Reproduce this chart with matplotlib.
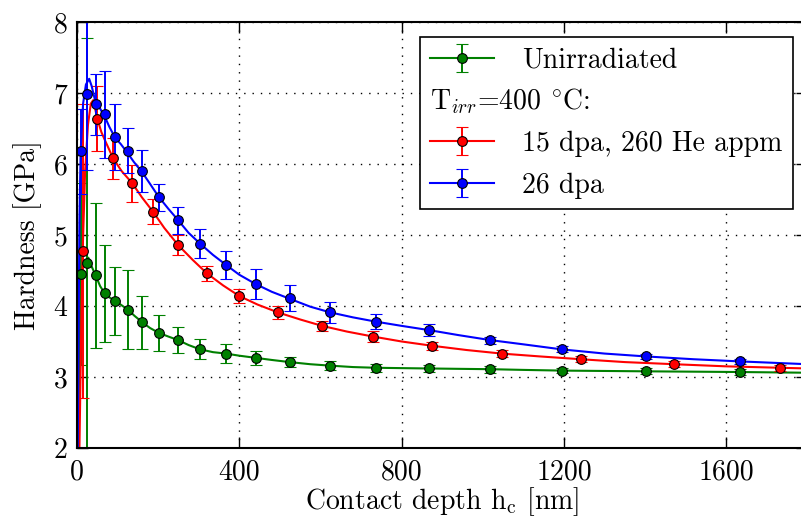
import numpy as np
import matplotlib
matplotlib.use("Agg")
import matplotlib.pyplot as plt
from matplotlib.lines import Line2D
from matplotlib.text import Text

plt.rcParams['font.family'] = ['cmr10', 'DejaVu Serif']
plt.rcParams['mathtext.fontset'] = 'cm'
plt.rcParams['font.size'] = 20
plt.rcParams['axes.unicode_minus'] = False

# indentation points (contact depth in nm, hardness in GPa)
depth_ref = [9, 25, 46, 69, 94, 125, 161, 201, 249, 303, 367, 440, 525, 624, 736, 868, 1018, 1195, 1401, 1634]
h_unirr = [4.45, 4.61, 4.43, 4.18, 4.07, 3.95, 3.77, 3.62, 3.52, 3.39, 3.33, 3.27, 3.21, 3.16, 3.13, 3.12, 3.11, 3.09, 3.08, 3.07]
err_unirr = [1.28, 3.17, 1.02, 0.68, 0.48, 0.56, 0.37, 0.25, 0.18, 0.14, 0.13, 0.10, 0.07, 0.06, 0.06, 0.05, 0.05, 0.04, 0.04, 0.04]
h_26 = [6.18, 6.98, 6.84, 6.70, 6.38, 6.19, 5.90, 5.53, 5.21, 4.88, 4.58, 4.31, 4.11, 3.91, 3.78, 3.66, 3.52, 3.39, 3.29, 3.22]
err_26 = [0.60, 1.06, 0.43, 0.61, 0.46, 0.32, 0.30, 0.19, 0.19, 0.20, 0.20, 0.21, 0.18, 0.15, 0.11, 0.08, 0.05, 0.04, 0.04, 0.04]

depth_15 = [14, 50, 89, 136, 187, 249, 320, 400, 495, 604, 729, 875, 1046, 1242, 1472, 1732]
h_15 = [4.78, 6.64, 6.08, 5.73, 5.33, 4.86, 4.46, 4.14, 3.91, 3.72, 3.57, 3.44, 3.33, 3.25, 3.18, 3.13]
err_15 = [2.07, 0.46, 0.29, 0.26, 0.18, 0.14, 0.11, 0.10, 0.09, 0.07, 0.08, 0.06, 0.05, 0.04, 0.04, 0.04]

# fitted curves
fit_unirr_x = [0, 4, 9, 17, 28, 35, 46, 57, 68, 80, 95, 110, 125, 142, 161, 180, 202, 225, 249, 275, 303, 335, 367, 400,
               440, 480, 524, 575, 624, 680, 736, 800, 868, 940, 1018, 1100, 1197, 1300, 1401, 1520, 1635, 1800]
fit_unirr_y = [0.5, 2.6, 4.45, 4.62, 4.68, 4.57, 4.43, 4.28, 4.18, 4.12, 4.07, 4.01, 3.95, 3.86, 3.77, 3.69, 3.62, 3.57, 3.52,
               3.45, 3.39, 3.35, 3.33, 3.30, 3.27, 3.24, 3.21, 3.18, 3.16, 3.14, 3.13, 3.125, 3.12, 3.115, 3.11, 3.10, 3.09,
               3.085, 3.08, 3.075, 3.07, 3.06]
fit_15_x = [0, 6, 11, 14, 20, 27, 34, 40, 50, 60, 70, 89, 110, 136, 160, 187, 215, 249, 285, 320, 360, 400, 445, 495,
            550, 604, 665, 729, 800, 875, 960, 1046, 1140, 1242, 1350, 1472, 1600, 1732, 1800]
fit_15_y = [0.5, 2.0, 3.9, 4.78, 5.9, 6.55, 6.85, 6.9, 6.64, 6.45, 6.32, 6.08, 5.90, 5.73, 5.53, 5.33, 5.10, 4.86, 4.65,
            4.46, 4.29, 4.14, 4.02, 3.91, 3.81, 3.72, 3.64, 3.57, 3.50, 3.44, 3.38, 3.33, 3.29, 3.25, 3.21, 3.18, 3.15,
            3.13, 3.12]
fit_26_x = [0, 3, 6, 9, 15, 22, 30, 36, 46, 57, 69, 80, 94, 108, 124, 140, 161, 180, 201, 225, 249, 275, 303, 335, 367,
            400, 440, 480, 525, 575, 624, 680, 736, 800, 868, 940, 1018, 1100, 1193, 1300, 1401, 1520, 1632, 1800]
fit_26_y = [0.5, 3.0, 5.2, 6.18, 6.85, 7.12, 7.2, 7.1, 6.86, 6.78, 6.66, 6.52, 6.37, 6.28, 6.16, 6.03, 5.88, 5.72, 5.54,
            5.37, 5.21, 5.03, 4.88, 4.72, 4.58, 4.44, 4.31, 4.20, 4.10, 3.99, 3.91, 3.84, 3.78, 3.72, 3.66, 3.59, 3.52,
            3.46, 3.39, 3.33, 3.29, 3.25, 3.22, 3.18]

TIRR = r'T$_{irr}$=400 $^{\circ}$C:'


class TextHandler:
    # legend row whose "handle" is the temperature heading itself
    def legend_artist(self, legend, orig_handle, fontsize, handlebox):
        t = Text(0, 0, TIRR, fontsize=fontsize, va='baseline', ha='left')
        handlebox.add_artist(t)
        return t


fig = plt.figure(figsize=(8.01, 5.17), dpi=100)
ax = fig.add_axes([77/801, 69/517, 730.5/801, 426/517])

series = [
    (depth_ref, h_unirr, err_unirr, fit_unirr_x, fit_unirr_y, 'g', 'Unirradiated'),
    (depth_15, h_15, err_15, fit_15_x, fit_15_y, 'r', '15 dpa, 260 He appm'),
    (depth_ref, h_26, err_26, fit_26_x, fit_26_y, 'b', '26 dpa'),
]
ebkw = dict(marker='o', ms=7, mec='k', mew=0.8, elinewidth=1.4, capsize=4.3, capthick=1.4)
handles = []
for x, y, e, fx, fy, c, lab in series:
    ax.plot(fx, fy, color=c, lw=1.5)
    ax.errorbar(x, y, yerr=e, linestyle='none', color=c, mfc=c, **ebkw)
    # proxy for legend (line + marker + bar)
    handles.append(ax.errorbar([np.nan], [np.nan], yerr=[np.nan], linestyle='-', lw=1.5, color=c, mfc=c, **ebkw))

ax.set_xlim(0, 1800)
ax.set_ylim(2, 8)
ax.set_xticks([0, 400, 800, 1200, 1600])
ax.set_yticks([2, 3, 4, 5, 6, 7, 8])
ax.grid(True, color='k', linestyle=(0, (1, 5)), lw=1)
ax.tick_params(direction='in', top=True, right=True, length=8, width=1)
ax.tick_params(axis='x', pad=8)
ax.tick_params(axis='y', pad=7)
for s in ax.spines.values():
    s.set_linewidth(1.5)

ax.set_xlabel(r'Contact depth h$_\mathrm{c}$ [nm]', labelpad=0)
ax.set_ylabel('Hardness [GPa]', labelpad=8)

heading = Line2D([], [], linestyle='none')
leg = ax.legend([handles[0], heading, handles[1], handles[2]],
                ['Unirradiated', '', '15 dpa, 260 He appm', '26 dpa'],
                handler_map={heading: TextHandler()},
                loc='upper right', bbox_to_anchor=(793/801, 1 - 37/517), bbox_transform=fig.transFigure,
                borderaxespad=0, fancybox=False, framealpha=1, edgecolor='k',
                handlelength=2.3, handletextpad=1.0, labelspacing=0.55, borderpad=0.38, numpoints=1)
leg.get_frame().set_linewidth(1.2)

fig.savefig('out.png', dpi=100)
